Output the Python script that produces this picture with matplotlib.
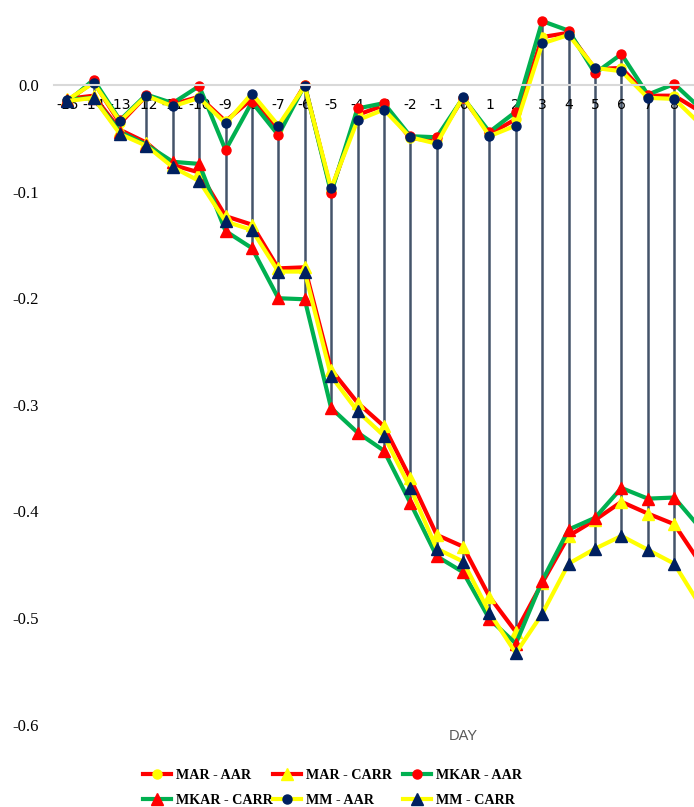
import matplotlib
matplotlib.use("Agg")
import matplotlib.pyplot as plt
from matplotlib.lines import Line2D

days = list(range(-15, 10))

mar_aar = [-0.015, 0.003, -0.036, -0.010, -0.018, -0.011, -0.034, -0.013, -0.041, 0.000,
           -0.099, -0.028, -0.019, -0.050, -0.052, -0.012, -0.046, -0.032, 0.045, 0.049,
           0.015, 0.016, -0.010, -0.010, -0.025]
mar_carr = [-0.013, -0.010, -0.042, -0.054, -0.075, -0.082, -0.123, -0.131, -0.172, -0.171,
            -0.267, -0.298, -0.320, -0.369, -0.422, -0.433, -0.480, -0.513, -0.467, -0.423,
            -0.408, -0.391, -0.402, -0.412, -0.449]
mkar_aar = [-0.016, 0.005, -0.033, -0.009, -0.017, -0.001, -0.061, -0.016, -0.047, 0.000,
            -0.101, -0.022, -0.017, -0.048, -0.049, -0.012, -0.044, -0.025, 0.060, 0.051,
            0.011, 0.029, -0.009, 0.001, -0.022]
mkar_carr = [-0.014, -0.012, -0.044, -0.056, -0.072, -0.074, -0.137, -0.153, -0.200, -0.201,
             -0.303, -0.326, -0.343, -0.392, -0.442, -0.457, -0.501, -0.524, -0.465, -0.417,
             -0.406, -0.378, -0.388, -0.387, -0.416]
mm_aar = [-0.014, 0.002, -0.034, -0.010, -0.020, -0.012, -0.036, -0.008, -0.038, -0.001,
          -0.097, -0.033, -0.023, -0.049, -0.055, -0.011, -0.048, -0.038, 0.039, 0.047,
          0.016, 0.013, -0.012, -0.013, -0.037]
mm_carr = [-0.015, -0.012, -0.046, -0.057, -0.077, -0.090, -0.128, -0.136, -0.175, -0.175,
           -0.273, -0.306, -0.329, -0.378, -0.435, -0.447, -0.495, -0.533, -0.496, -0.449,
           -0.435, -0.423, -0.436, -0.449, -0.489]

labels = ["MAR - AAR", "MAR - CARR", "MKAR - AAR", "MKAR - CARR", "MM - AAR", "MM - CARR"]
series = [mar_aar, mar_carr, mkar_aar, mkar_carr, mm_aar, mm_carr]
line_colors = ["#FF0000", "#FF0000", "#00B050", "#00B050", "#FFFF00", "#FFFF00"]
marker_colors = ["#FFFF00", "#FFFF00", "#FF0000", "#FF0000", "#002060", "#002060"]
markers = ["o", "^", "o", "^", "o", "^"]

serif = "Liberation Serif"

fig = plt.figure(figsize=(6.94, 8.07), dpi=100)
ax = fig.add_axes([54 / 694, 0.1021, 1 - 54 / 694, 0.885])

# high-low lines
lows = [min(v) for v in zip(*series)]
highs = [max(v) for v in zip(*series)]
ax.vlines(days, lows, highs, color="#44546A", lw=1.8, zorder=1.5)

handles = []
for vals, lab, lc, mc, mk in zip(series, labels, line_colors, marker_colors, markers):
    ms = 6.5 if mk == "o" else 8
    ax.plot(days, vals, color=lc, lw=3, marker=mk, ms=ms, mfc=mc, mec=mc, zorder=2)
    handles.append(Line2D([], [], color=lc, lw=3, marker=mk, ms=ms, mfc=mc, mec=mc, label=lab))

ax.set_xlim(-15.5, 8.75)
ax.set_ylim(-0.6, 0.07)
ax.set_yticks([0.0, -0.1, -0.2, -0.3, -0.4, -0.5, -0.6])
ax.set_yticklabels(["0.0", "-0.1", "-0.2", "-0.3", "-0.4", "-0.5", "-0.6"],
                   fontfamily=serif, fontsize=12, color="black")
tick_days = days[:-1]
ax.set_xticks(tick_days)
ax.set_xticklabels([str(d) for d in tick_days], fontfamily=serif, fontsize=12, color="#595959")

for s in ["top", "right", "left"]:
    ax.spines[s].set_visible(False)
ax.spines["bottom"].set_position(("data", 0))
ax.spines["bottom"].set_color("#D9D9D9")
ax.spines["bottom"].set_linewidth(1.5)
ax.tick_params(axis="x", length=0, pad=9)
ax.tick_params(axis="y", length=0, pad=11)

fig.text(463 / 694, 1 - 736 / 807, "DAY", ha="center", va="center",
         fontsize=10.5, color="#595959", fontfamily="Liberation Sans")

# legend: 3 fixed-width columns, filled row by row
col_x = [143, 273, 403]
for c in range(3):
    idx = [c, c + 3]
    fig.legend([handles[i] for i in idx], [labels[i] for i in idx],
               loc="upper left", bbox_to_anchor=(col_x[c] / 694, 1 - 769 / 807),
               ncol=1, frameon=False, handlelength=2.0, handletextpad=0.3,
               labelspacing=0.85, borderpad=0, borderaxespad=0,
               prop={"family": serif, "weight": "bold", "size": 10.2})

fig.savefig("out.png", dpi=100)
